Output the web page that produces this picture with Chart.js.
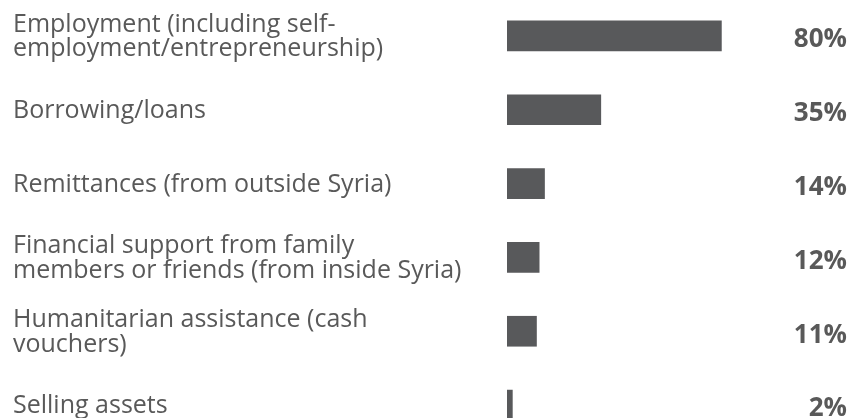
<!DOCTYPE html>
<html>
<head>
<meta charset="utf-8">
<script src="https://cdn.jsdelivr.net/npm/chart.js@4"></script>
<style>
  html, body { margin: 0; padding: 0; background: #fff; overflow: hidden; }
  #wrap { width: 851px; height: 443px; position: relative; margin-top: -1px; }
</style>
</head>
<body>
<div id="wrap"><canvas id="chart"></canvas></div>
<script>
const categories = [
  ['Employment (including self-', 'employment/entrepreneurship)'],
  'Borrowing/loans',
  'Remittances (from outside Syria)',
  ['Financial support from family', 'members or friends (from inside Syria)'],
  ['Humanitarian assistance (cash', 'vouchers)'],
  'Selling assets'
];
const values = [80, 35, 14, 12, 11, 2];
const valueLabels = ['80%', '35%', '14%', '12%', '11%', '2%'];

const BAR_LEFT = 507;
const TEXT_LEFT = 13;

// draws the percentages in the right-hand column
const valueColumn = {
  id: 'valueColumn',
  afterDatasetsDraw(chart) {
    const ctx = chart.ctx;
    const meta = chart.getDatasetMeta(0);
    ctx.save();
    ctx.font = 'bold 26px "Open Sans"';
    ctx.fillStyle = '#595959';
    ctx.textAlign = 'right';
    ctx.textBaseline = 'middle';
    meta.data.forEach((bar, i) => {
      ctx.fillText(valueLabels[i], chart.width - 4, bar.y + 4);
    });
    ctx.restore();
  }
};

new Chart(document.getElementById('chart'), {
  type: 'bar',
  data: {
    labels: categories,
    datasets: [{
      data: values,
      backgroundColor: '#58595b',
      barThickness: 30
    }]
  },
  options: {
    indexAxis: 'y',
    responsive: true,
    maintainAspectRatio: false,
    animation: false,
    layout: { padding: { top: 0, bottom: 0, left: TEXT_LEFT, right: 76 } },
    plugins: { legend: { display: false }, tooltip: { enabled: false } },
    scales: {
      x: {
        min: 0, max: 100,
        display: false
      },
      y: {
        grid: { display: false },
        border: { display: false },
        ticks: {
          crossAlign: 'far',
          color: '#595959',
          padding: 0,
          labelOffset: 1,
          font: { family: '"Open Sans"', size: 25, lineHeight: 0.98 }
        },
        afterFit(scale) {
          scale.width = BAR_LEFT - TEXT_LEFT;
          // labels may overhang; the bands should fill the full height
          scale.paddingTop = 0;
          scale.paddingBottom = 0;
        }
      }
    }
  },
  plugins: [valueColumn]
});
</script>
</body>
</html>
